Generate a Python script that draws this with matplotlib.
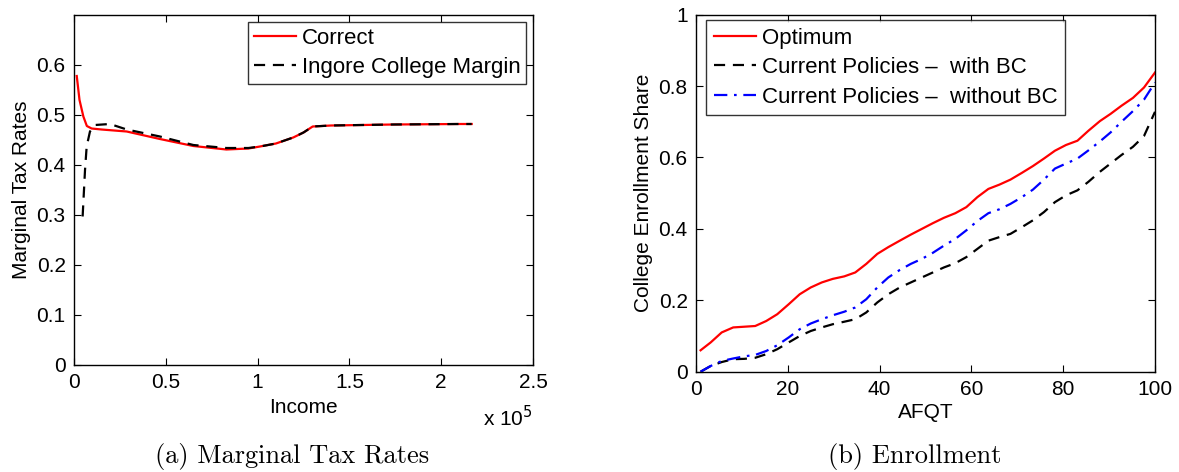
import matplotlib
matplotlib.use('Agg')
import matplotlib.pyplot as plt
from matplotlib.ticker import FuncFormatter, MultipleLocator

plt.rcParams['font.family'] = ['Liberation Sans', 'DejaVu Sans']

# (a) marginal tax rates, income in dollars
correct_income = [1500, 3000, 5100, 7000, 9600, 15000, 28700, 46800, 65000, 83000,
                  95000, 101300, 110000, 119400, 125000, 130000, 140000, 173900, 210000, 216600]
correct_rate = [0.578, 0.530, 0.497, 0.478, 0.473, 0.471, 0.467, 0.452, 0.438, 0.431,
                0.433, 0.437, 0.443, 0.455, 0.465, 0.477, 0.479, 0.481, 0.482, 0.482]
ignore_income = [4700, 6000, 6900, 8700, 11400, 19600, 28700, 46800, 65000, 83000,
                 95000, 101300, 110000, 119400, 125000, 130000, 140000, 173900, 210000, 216600]
ignore_rate = [0.297, 0.390, 0.437, 0.467, 0.480, 0.482, 0.471, 0.457, 0.440, 0.434,
               0.434, 0.437, 0.443, 0.455, 0.465, 0.477, 0.479, 0.481, 0.482, 0.482]

# (b) enrollment by AFQT
afqt = [1, 3.2, 5.6, 8.1, 10.5, 12.9, 15.3, 17.7, 20.2, 22.6, 25, 27.4, 29.8, 32.3, 34.7,
        37.1, 39.5, 41.9, 44.4, 46.8, 49.2, 51.6, 54, 56.5, 58.9, 61.3, 63.7, 66.1, 68.5,
        71, 73.4, 75.8, 78.2, 80.6, 83.1, 85.5, 88, 90.3, 92.7, 95.2, 97.6, 100]
optimum = [0.060, 0.082, 0.110, 0.124, 0.126, 0.128, 0.142, 0.161, 0.189, 0.217, 0.236,
           0.250, 0.260, 0.267, 0.278, 0.302, 0.330, 0.349, 0.367, 0.384, 0.400, 0.416,
           0.431, 0.444, 0.461, 0.489, 0.512, 0.524, 0.538, 0.557, 0.576, 0.597, 0.619,
           0.635, 0.647, 0.675, 0.702, 0.722, 0.745, 0.767, 0.796, 0.838]
with_bc = [0.000, 0.016, 0.027, 0.035, 0.036, 0.039, 0.049, 0.063, 0.082, 0.100, 0.114,
           0.124, 0.133, 0.140, 0.147, 0.166, 0.194, 0.217, 0.236, 0.250, 0.264, 0.278,
           0.292, 0.304, 0.321, 0.344, 0.367, 0.377, 0.386, 0.405, 0.424, 0.447, 0.475,
           0.494, 0.508, 0.532, 0.560, 0.583, 0.607, 0.630, 0.660, 0.728]
without_bc = [0.000, 0.016, 0.030, 0.037, 0.043, 0.047, 0.058, 0.074, 0.096, 0.119, 0.135,
              0.147, 0.158, 0.168, 0.180, 0.203, 0.236, 0.264, 0.285, 0.302, 0.316, 0.333,
              0.353, 0.372, 0.396, 0.422, 0.444, 0.455, 0.470, 0.489, 0.510, 0.538, 0.569,
              0.583, 0.597, 0.620, 0.645, 0.670, 0.700, 0.730, 0.762, 0.810]

fs = 15
lfs = 16
fig = plt.figure(figsize=(11.79, 4.72), dpi=100)
ax1 = fig.add_axes([74/1179, 1 - 365/472, 459/1179, 350/472])
ax2 = fig.add_axes([696/1179, 1 - 371.7/472, 459/1179, 357/472])

def style(ax):
    ax.tick_params(direction='in', top=True, right=True, length=5, width=0.8,
                   labelsize=fs, pad=6)
    for s in ax.spines.values():
        s.set_linewidth(1.0)
    ax.yaxis.set_major_formatter(FuncFormatter(lambda v, p: '%g' % round(v, 3)))

def box_legend(ax, pad, **kw):
    leg = ax.legend(borderaxespad=0, fontsize=lfs, frameon=True, fancybox=False,
                    handlelength=1.9, handletextpad=0.25, labelspacing=0.38,
                    borderpad=pad, **kw)
    leg.get_frame().set_edgecolor('black')
    leg.get_frame().set_linewidth(1.0)
    return leg

# left panel
ax1.plot(correct_income, correct_rate, color='red', lw=1.6, label='Correct')
ax1.plot(ignore_income, ignore_rate, color='black', lw=1.6, ls=(0, (5, 3.5)),
         label='Ingore College Margin')
ax1.set_xlim(0, 250000)
ax1.set_ylim(0, 0.7)
ax1.xaxis.set_major_locator(MultipleLocator(50000))
ax1.set_yticks([0, 0.1, 0.2, 0.3, 0.4, 0.5, 0.6])
style(ax1)
ax1.xaxis.set_major_formatter(FuncFormatter(lambda v, p: '%g' % (v / 1e5)))
ax1.set_xlabel('Income', fontsize=fs, labelpad=4)
ax1.set_ylabel('Marginal Tax Rates', fontsize=fs, labelpad=4)
ax1.text(1.0, -0.115, r'x 10$^5$', transform=ax1.transAxes, ha='right', va='top',
         fontsize=fs)
box_legend(ax1, 0.25, loc='upper right', bbox_to_anchor=(0.985, 0.98))

# right panel
ax2.plot(afqt, optimum, color='red', lw=1.6, label='Optimum')
ax2.plot(afqt, with_bc, color='black', lw=1.6, ls=(0, (5, 3.5)),
         label='Current Policies \u2013  with BC')
ax2.plot(afqt, without_bc, color='blue', lw=1.6, ls=(0, (6, 3, 1.2, 3)),
         label='Current Policies \u2013  without BC')
ax2.set_xlim(0, 100)
ax2.set_ylim(0, 1)
ax2.xaxis.set_major_locator(MultipleLocator(20))
ax2.yaxis.set_major_locator(MultipleLocator(0.2))
style(ax2)
ax2.set_xlabel('AFQT', fontsize=fs, labelpad=3)
ax2.set_ylabel('College Enrollment Share', fontsize=fs, labelpad=4)
box_legend(ax2, 0.35, loc='upper left', bbox_to_anchor=(0.022, 0.985))

# captions
fig.text(292/1179, 1 - 457/472, '(a) Marginal Tax Rates', ha='center', va='center',
         fontsize=19, family='cmr10')
fig.text(915/1179, 1 - 457/472, '(b) Enrollment', ha='center', va='center',
         fontsize=19, family='cmr10')

fig.savefig('out.png', dpi=100)
